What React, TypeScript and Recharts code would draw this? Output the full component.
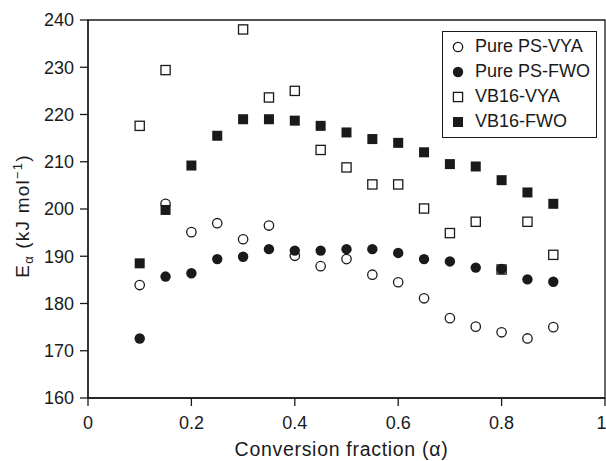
import React from 'react';
import { ScatterChart, Scatter, XAxis, YAxis, ReferenceArea, Legend } from 'recharts';

const alphas = [0.1, 0.15, 0.2, 0.25, 0.3, 0.35, 0.4, 0.45, 0.5, 0.55, 0.6, 0.65, 0.7, 0.75, 0.8, 0.85, 0.9];
const purePsVya = [183.9, 201.1, 195.1, 197.0, 193.6, 196.5, 190.1, 187.9, 189.4, 186.1, 184.5, 181.1, 176.9, 175.1, 173.9, 172.6, 175.0];
const purePsFwo = [172.6, 185.7, 186.4, 189.4, 189.9, 191.5, 191.2, 191.2, 191.5, 191.5, 190.7, 189.4, 188.9, 187.6, 187.3, 185.1, 184.6];
// VB16-VYA has no points at 0.2 and 0.25
const vb16VyaAlphas = [0.1, 0.15, 0.3, 0.35, 0.4, 0.45, 0.5, 0.55, 0.6, 0.65, 0.7, 0.75, 0.8, 0.85, 0.9];
const vb16Vya = [217.6, 229.4, 238.0, 223.6, 225.0, 212.5, 208.8, 205.2, 205.2, 200.1, 194.9, 197.3, 187.2, 197.3, 190.3];
const vb16Fwo = [188.5, 199.8, 209.2, 215.5, 219.0, 219.0, 218.7, 217.6, 216.2, 214.8, 214.0, 212.0, 209.5, 209.0, 206.1, 203.5, 201.1];

const xTicks = [0, 0.2, 0.4, 0.6, 0.8, 1];
const yTicks = [160, 170, 180, 190, 200, 210, 220, 230, 240];

const toPoints = (xs: number[], ys: number[]) => xs.map((x, i) => ({ x, y: ys[i] }));

const INK = '#1a1a1a';
const FONT = '"Liberation Sans", Arial, sans-serif';

const OpenCircle = (p: any) => <circle cx={p.cx} cy={p.cy} r={4.7} fill="#fff" stroke={INK} strokeWidth={1.3} />;
const FilledCircle = (p: any) => <circle cx={p.cx} cy={p.cy} r={5.2} fill={INK} />;
const OpenSquare = (p: any) => <rect x={p.cx - 4.6} y={p.cy - 4.6} width={9.2} height={9.2} fill="#fff" stroke={INK} strokeWidth={1.3} />;
const FilledSquare = (p: any) => <rect x={p.cx - 5} y={p.cy - 5} width={10} height={10} fill={INK} />;

const legendItems = [
  { label: 'Pure PS-VYA', Shape: OpenCircle },
  { label: 'Pure PS-FWO', Shape: FilledCircle },
  { label: 'VB16-VYA', Shape: OpenSquare },
  { label: 'VB16-FWO', Shape: FilledSquare },
];

const LegendBox = () => (
  <div style={{ border: `1.3px solid ${INK}`, background: '#fff', padding: '2px 0 3px 0', fontFamily: FONT, fontSize: 18, color: INK }}>
    {legendItems.map(({ label, Shape }) => (
      <div key={label} style={{ display: 'flex', alignItems: 'center', height: 25 }}>
        <svg width={30} height={20} style={{ marginLeft: 2 }}>
          <Shape cx={13} cy={10} />
        </svg>
        <span>{label}</span>
      </div>
    ))}
  </div>
);

const YLabel = ({ viewBox }: any) => {
  const cx = 29;
  const cy = viewBox.y + viewBox.height / 2 + 7;
  return (
    <text x={cx} y={cy} transform={`rotate(-90 ${cx} ${cy})`} textAnchor="middle" fontFamily={FONT} fontSize={19} letterSpacing={1.2} fill={INK}>
      E<tspan fontSize={13} dy={4}>α</tspan>
      <tspan dy={-4}> (kJ mol</tspan>
      <tspan fontSize={13} dy={-7}>−1</tspan>
      <tspan dy={7}>)</tspan>
    </text>
  );
};

const XLabel = ({ viewBox }: any) => (
  <text x={viewBox.x + viewBox.width / 2 - 5} y={456} textAnchor="middle" fontFamily={FONT} fontSize={19.5} letterSpacing={0.7} fill={INK}>
    Conversion fraction (α)
  </text>
);

export default function App() {
  const tick = { fontFamily: FONT, fontSize: 18, fill: INK };
  return (
    <div style={{ position: 'absolute', left: 0, top: 0, background: '#fff' }}>
      <ScatterChart width={606} height={461} margin={{ top: 20, right: 1, bottom: 0, left: 0 }}>
        <XAxis
          type="number"
          dataKey="x"
          domain={[0, 1]}
          ticks={xTicks}
          tickFormatter={(v: number) => String(v)}
          height={63}
          tickSize={8}
          tickMargin={10}
          stroke={INK}
          strokeWidth={1.3}
          tick={tick}
          label={{ content: XLabel }}
        />
        <YAxis
          type="number"
          dataKey="y"
          domain={[160, 240]}
          ticks={yTicks}
          width={88}
          tickSize={8}
          tickMargin={6}
          stroke={INK}
          strokeWidth={1.3}
          tick={tick}
          label={{ content: YLabel }}
        />
        <ReferenceArea x1={0} x2={1} y1={160} y2={240} fill="none" stroke={INK} strokeWidth={1.3} ifOverflow="visible" />
        <Scatter name="VB16-VYA" data={toPoints(vb16VyaAlphas, vb16Vya)} shape={OpenSquare} isAnimationActive={false} />
        <Scatter name="Pure PS-VYA" data={toPoints(alphas, purePsVya)} shape={OpenCircle} isAnimationActive={false} />
        <Scatter name="VB16-FWO" data={toPoints(alphas, vb16Fwo)} shape={FilledSquare} isAnimationActive={false} />
        <Scatter name="Pure PS-FWO" data={toPoints(alphas, purePsFwo)} shape={FilledCircle} isAnimationActive={false} />
        <Legend
          layout="horizontal"
          verticalAlign="middle"
          align="center"
          content={() => <LegendBox />}
          wrapperStyle={{ top: 31, left: 442, width: 155, height: 'auto' }}
        />
      </ScatterChart>
    </div>
  );
}
